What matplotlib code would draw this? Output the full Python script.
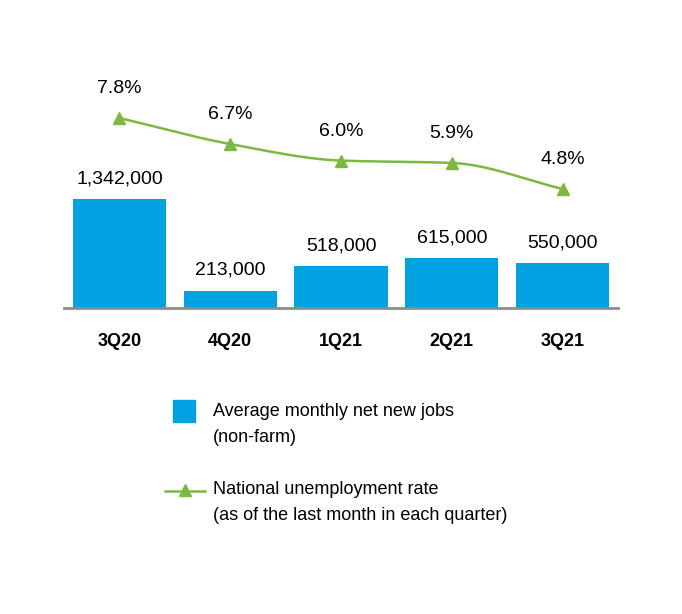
import numpy as np
import matplotlib
matplotlib.use("Agg")
import matplotlib.pyplot as plt
from matplotlib.patches import Rectangle
from matplotlib.lines import Line2D

quarters = ["3Q20", "4Q20", "1Q21", "2Q21", "3Q21"]
new_jobs = [1342000, 213000, 518000, 615000, 550000]
unemployment = [7.8, 6.7, 6.0, 5.9, 4.8]

blue = "#00a3e0"
green = "#7cb942"

plt.rcParams['font.family'] = ['Liberation Sans Narrow', 'Liberation Sans', 'DejaVu Sans']

W, H = 682, 614
fig = plt.figure(figsize=(W / 100, H / 100), dpi=100)

# axes placed in pixel terms: x 64..618, baseline at y=308 from top
ax = fig.add_axes([64 / W, (H - 308) / H, 554 / W, 248 / H])
x = np.arange(len(quarters))
ax.bar(x, new_jobs, width=0.84, color=blue, zorder=2)
ax.set_xlim(-0.5, 4.5)
ax.set_ylim(0, 3.05e6)
for s in ["top", "right", "left"]:
    ax.spines[s].set_visible(False)
ax.spines["bottom"].set_color("#8c8c8c")
ax.spines["bottom"].set_linewidth(2)
ax.set_yticks([])
ax.set_xticks(x)
ax.set_xticklabels(quarters, fontsize=13, fontweight="bold")
ax.tick_params(axis="x", length=0, pad=18)

for xi, v in zip(x, new_jobs):
    ax.annotate(f"{v:,}", (xi, v), xytext=(0, 8.5), textcoords="offset points",
                ha="center", va="bottom", fontsize=14)

# unemployment line on its own scale
ax2 = ax.twinx()
ax2.set_ylim(-0.23, 10.25)
ax2.axis("off")

# smooth monotone curve through the points (Fritsch-Carlson tangents)
px = np.array(x, dtype=float)
py = np.array(unemployment, dtype=float)
d = np.diff(py) / np.diff(px)
m = np.zeros_like(py)
m[0], m[-1] = d[0], d[-1]
for i in range(1, len(py) - 1):
    if d[i - 1] * d[i] > 0:
        m[i] = 2 / (1 / d[i - 1] + 1 / d[i])
cx, cy = [], []
for i in range(len(py) - 1):
    h = px[i + 1] - px[i]
    t = np.linspace(0, 1, 40)
    h00 = 2 * t**3 - 3 * t**2 + 1
    h10 = t**3 - 2 * t**2 + t
    h01 = -2 * t**3 + 3 * t**2
    h11 = t**3 - t**2
    cx.append(px[i] + t * h)
    cy.append(h00 * py[i] + h10 * h * m[i] + h01 * py[i + 1] + h11 * h * m[i + 1])
ax2.plot(np.concatenate(cx), np.concatenate(cy), color=green, lw=1.8, zorder=3)
ax2.plot(px, py, linestyle="none", marker="^", markersize=9, color=green, zorder=4)
for xi, v in zip(px, py):
    ax2.annotate(f"{v:.1f}%", (xi, v), xytext=(0, 15), textcoords="offset points",
                 ha="center", va="bottom", fontsize=14)

# legend drawn by hand
fig.add_artist(Rectangle((173 / W, 1 - 422 / H), 22 / W, 22 / H,
                         transform=fig.transFigure, color=blue))
fig.text(213 / W, 1 - 412 / H, "Average monthly net new jobs", fontsize=13, va="center")
fig.text(213 / W, 1 - 437 / H, "(non-farm)", fontsize=13, va="center")
fig.add_artist(Line2D([165 / W, 205 / W], [1 - 491 / H] * 2, transform=fig.transFigure,
                      color=green, lw=1.8))
fig.add_artist(Line2D([185 / W], [1 - 490 / H], transform=fig.transFigure,
                      color=green, marker="^", markersize=9, linestyle="none"))
fig.text(213 / W, 1 - 490 / H, "National unemployment rate", fontsize=13, va="center")
fig.text(213 / W, 1 - 516 / H, "(as of the last month in each quarter)", fontsize=13, va="center")

fig.savefig("out.png", dpi=100, facecolor="white")
